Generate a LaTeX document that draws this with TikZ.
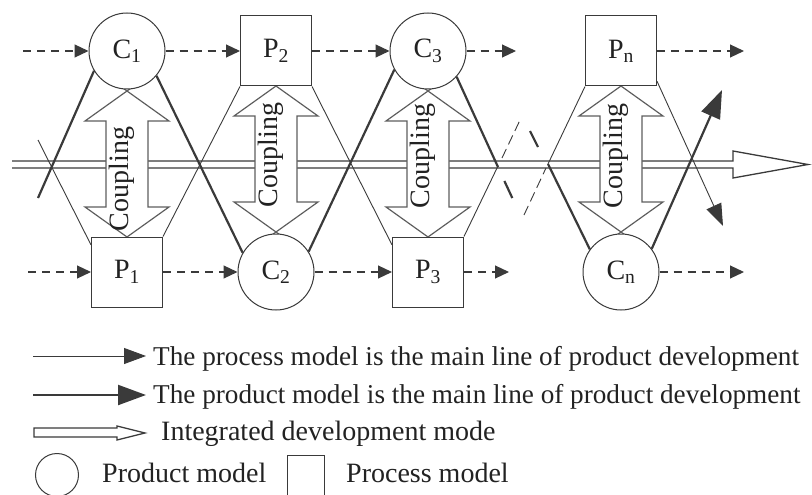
\documentclass[tikz,border=0pt]{standalone}
\usepackage{fontspec}
\setmainfont{Liberation Serif}
\usetikzlibrary{arrows.meta,calc,backgrounds}
\usepackage{xcolor}
\definecolor{ink}{HTML}{222222}
\definecolor{wire}{HTML}{3A3A3A}
\definecolor{shell}{HTML}{5E5E5E}

\begin{document}
\begin{tikzpicture}[
  x=1pt, y=-1pt,
  font=\fontsize{28}{32}\selectfont, text=ink,
  prod/.style={circle, draw=wire, fill=white, line width=1pt, minimum size=76pt, inner sep=0pt},
  proc/.style={rectangle, draw=wire, fill=white, line width=1pt, minimum width=71pt, minimum height=70pt, inner sep=0pt},
  procline/.style={draw=wire, line width=0.9pt},
  prodline/.style={draw=wire, line width=2.2pt},
  flow/.style={draw=wire, line width=1.1pt, dash pattern=on 8pt off 6pt, -{Triangle[length=14pt,width=13pt]}},
  thinhead/.style={-{Triangle[length=22pt,width=16pt]}},
  thickhead/.style={-{Triangle[length=28pt,width=20pt]}},
  hollow/.style={draw=wire, line width=1.3pt, fill=white},
  couple/.style={draw=shell, line width=1.2pt, fill=white},
  legtext/.style={inner sep=0pt, anchor=base west},
  longtext/.style={legtext, font=\fontsize{27.2}{32}\selectfont}
]
\useasboundingbox (0,0) rectangle (812,495);

\node[prod] (C1) at (127,51) {C\textsubscript{1}};
\node[proc] (P2) at (276,51) {P\textsubscript{2}};
\node[prod] (C3) at (428,51) {C\textsubscript{3}};
\node[proc] (Pn) at (621,51) {P\textsubscript{n}};
\node[proc] (P1) at (127,272) {P\textsubscript{1}};
\node[prod] (C2) at (276,272) {C\textsubscript{2}};
\node[proc] (P3) at (428,272) {P\textsubscript{3}};
\node[prod] (Cn) at (621,272) {C\textsubscript{n}};

\begin{scope}[on background layer]
\draw[hollow] (12,161) -- (733,161) -- (733,151) -- (808,164.5) -- (733,178) -- (733,168) -- (12,168);
\foreach \cx/\yt/\yb/\ty [count=\i] in {127/91/237/179, 276/86/232/155, 428/91/237/156, 621/86/232/156}{
  \draw[couple] (\cx-21,\yt+30) -- (\cx-42,\yt+30) -- (\cx,\yt) -- (\cx+42,\yt+30) -- (\cx+21,\yt+30)
    -- (\cx+21,\yb-30) -- (\cx+42,\yb-30) -- (\cx,\yb) -- (\cx-42,\yb-30) -- (\cx-21,\yb-30) -- cycle;
  \draw[draw=shell, line width=1.2pt] (\cx-7,\yt-5) -- (\cx,\yt) -- (\cx+7,\yt-5)
    (\cx-7,\yb+5) -- (\cx,\yb) -- (\cx+7,\yb+5);
  \node[rotate=90, inner sep=0pt] (cpl\i) at (\cx-5,\ty) {Coupling};
}
\end{scope}

\coordinate (s0) at (38,198);
\coordinate (s1) at (38,140);
\coordinate (e3) at (498,167);
\coordinate (e3a) at (504.4,181);
\coordinate (e3b) at (512.3,198);
\coordinate (f3) at (498,166);
\coordinate (f3a) at (502,158);
\coordinate (f3b) at (521,118);
\coordinate (x4) at (548,164);
\coordinate (g4a) at (530,131);
\coordinate (g4b) at (538,147);
\coordinate (h4a) at (524,215);
\coordinate (h4b) at (546,168);
\coordinate (tipA) at (722,90);
\coordinate (tipB) at (723,226);

\draw[prodline] (s0) -- (C1.211);
\draw[prodline] (C1.320) -- (C2.150);
\draw[prodline] (C2.32) -- (C3.209);
\draw[prodline] (C3.318) -- (e3);
\draw[prodline] (e3a) -- (e3b);
\draw[prodline] (g4a) -- (g4b);
\draw[prodline] (x4) -- (Cn.144);
\draw[prodline, thickhead] (Cn.37) -- (tipA);

\draw[procline] (s1) -- (P1.143);
\draw[procline] (P1.north east) -- (P2.south west);
\draw[procline] (P2.south east) -- (P3.143);
\draw[procline] (P3.north east) -- (f3);
\draw[procline, dash pattern=on 10pt off 5pt] (f3a) -- (f3b);
\draw[procline, dash pattern=on 10pt off 5pt] (h4a) -- (h4b);
\draw[procline] (x4) -- (Pn.south west);
\draw[procline, thinhead] (Pn.320) -- (tipB);

\coordinate (inC1) at (23,51);
\coordinate (inP1) at (28,272);
\coordinate (outC3) at (516,51);
\coordinate (outP3) at (509,272);
\coordinate (outPn) at (744,51);
\coordinate (outCn) at (744,272);
\draw[flow] (inC1) -- (C1);
\draw[flow] (C1) -- (P2);
\draw[flow] (P2) -- (C3);
\draw[flow] (C3) -- (outC3);
\draw[flow] (Pn) -- (outPn);
\draw[flow] (inP1) -- (P1);
\draw[flow] (P1) -- (C2);
\draw[flow] (C2) -- (P3);
\draw[flow] (P3) -- (outP3);
\draw[flow] (Cn) -- (outCn);

\coordinate (k1a) at (33,356);
\coordinate (k1b) at (146,356);
\coordinate (k2a) at (33,395);
\coordinate (k2b) at (146,395);
\draw[procline, thinhead] (k1a) -- (k1b);
\node[longtext] (k1) at (153,365) {The process model is the main line of product development};
\draw[prodline, thickhead] (k2a) -- (k2b);
\node[longtext] (k2) at (153,403) {The product model is the main line of product development};
\draw[hollow] (117,428) -- (34,428) -- (34,437) -- (117,437) -- (117,440) -- (145,433) -- (117,426) -- cycle;
\node[legtext] (k3) at (161,440) {Integrated development mode};
\node[prod, minimum size=43pt] (kC) at (57,475) {};
\node[legtext] (k4) at (102,482) {Product model};
\node[proc, minimum width=37pt, minimum height=44pt] (kP) at (306,477) {};
\node[legtext] (k5) at (346,482) {Process model};

\end{tikzpicture}
\end{document}
